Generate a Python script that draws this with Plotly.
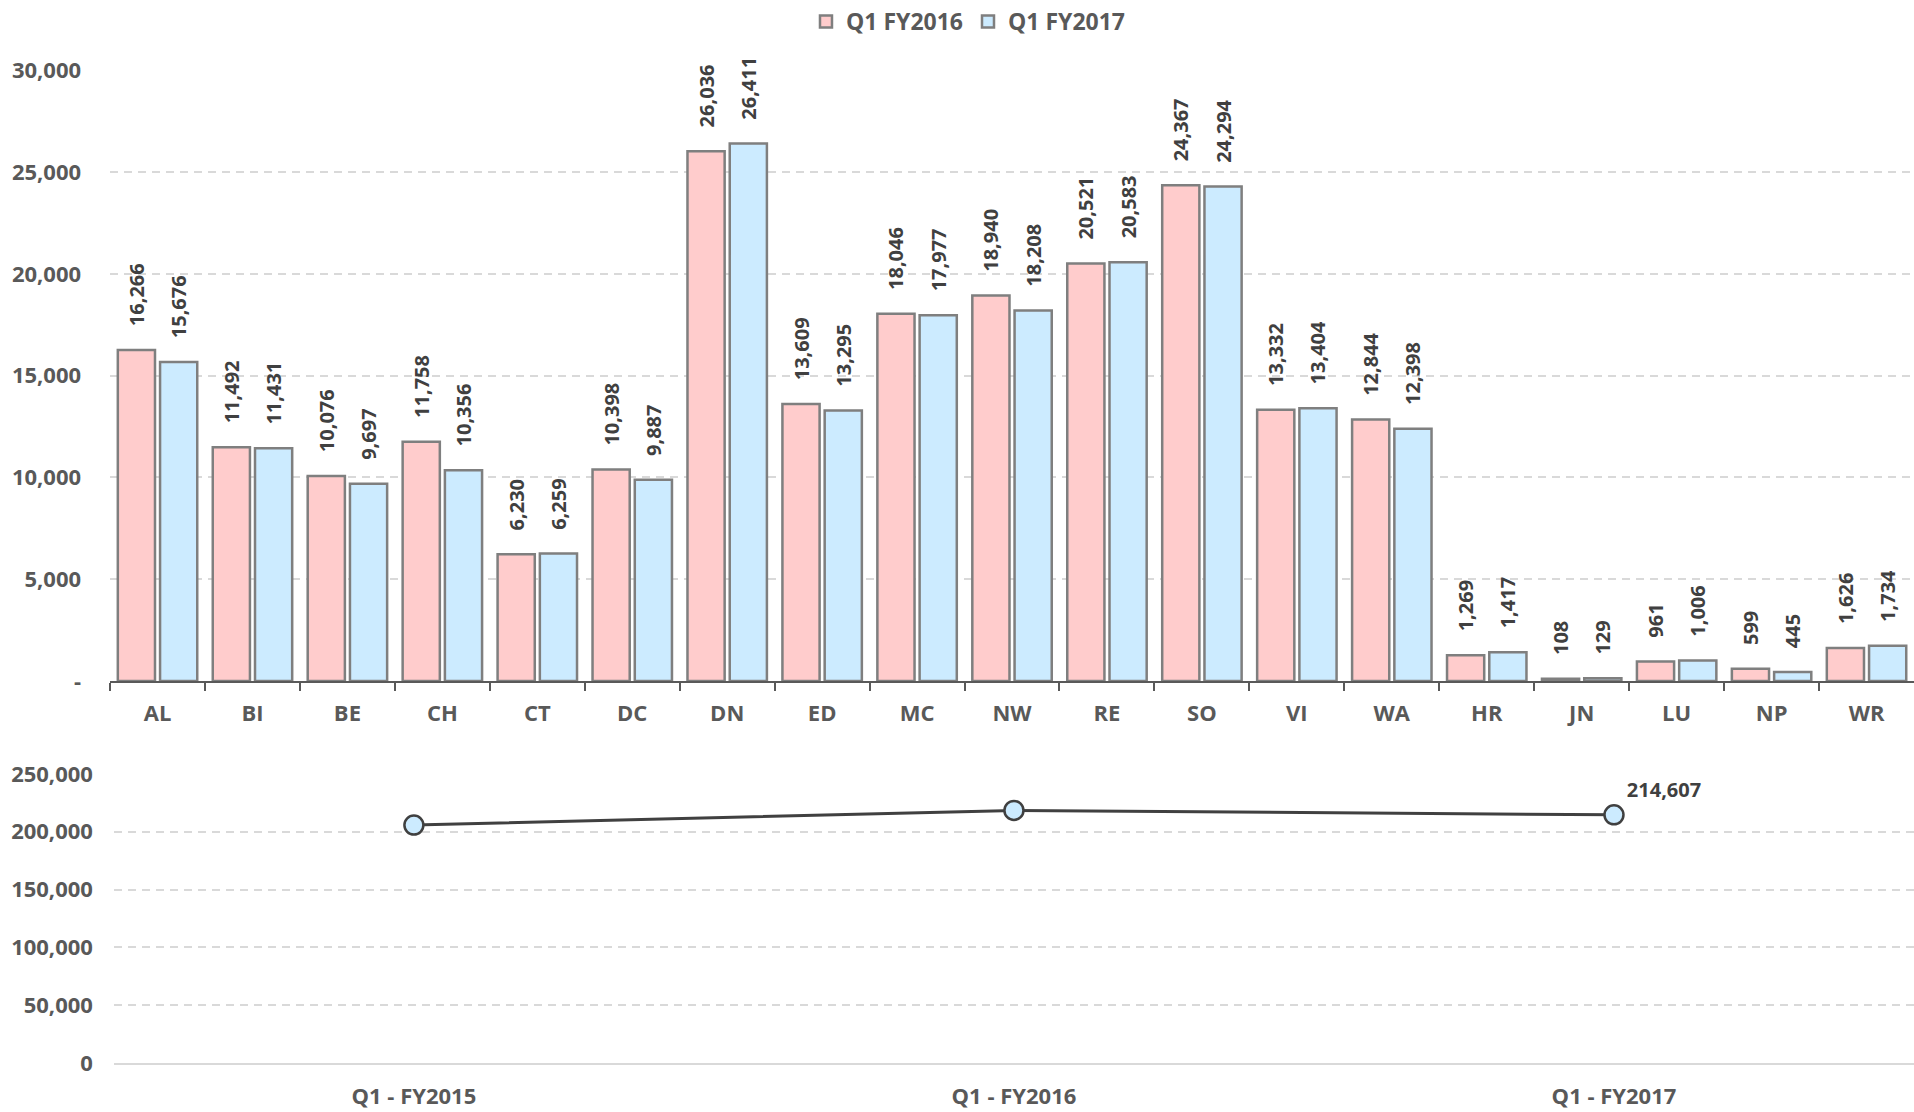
import plotly.graph_objects as go

# Regional counts, first quarter of each fiscal year
regions = ["AL", "BI", "BE", "CH", "CT", "DC", "DN", "ED", "MC", "NW",
           "RE", "SO", "VI", "WA", "HR", "JN", "LU", "NP", "WR"]
q1_fy2016 = [16266, 11492, 10076, 11758, 6230, 10398, 26036, 13609, 18046, 18940,
             20521, 24367, 13332, 12844, 1269, 108, 961, 599, 1626]
q1_fy2017 = [15676, 11431, 9697, 10356, 6259, 9887, 26411, 13295, 17977, 18208,
             20583, 24294, 13404, 12398, 1417, 129, 1006, 445, 1734]

# Quarterly totals
quarters = ["Q1 - FY2015", "Q1 - FY2016", "Q1 - FY2017"]
quarter_totals = [205800, 218478, 214607]

# Axis ticks
bar_tick_vals = [0, 5000, 10000, 15000, 20000, 25000, 30000]
bar_tick_text = ["-", "5,000", "10,000", "15,000", "20,000", "25,000", "30,000"]
total_tick_vals = [0, 50000, 100000, 150000, 200000, 250000]

FONT = "Open Sans"
AXIS_GREY = "#595959"
LABEL_DARK = "#404040"
GRID = "#D9D9D9"

tick_font = dict(family=FONT, size=22, color=AXIS_GREY, weight=700)
legend_font = dict(family=FONT, size=23, color=AXIS_GREY, weight=700)
label_font = dict(family=FONT, size=20, color=LABEL_DARK, weight=700)
pad = "\u00a0" * 4  # breathing room between bar top and its rotated label

fig = go.Figure()

for name, values, fill in [("Q1 FY2016", q1_fy2016, "#FFCCCC"),
                           ("Q1 FY2017", q1_fy2017, "#CCEBFF")]:
    fig.add_trace(go.Bar(
        x=regions, y=values, name=name,
        marker=dict(color=fill, line=dict(color="#7F7F7F", width=2.5)),
        texttemplate=pad + "%{y:,.0f}",
        textposition="outside", textangle=-90,
        textfont=label_font, constraintext="none", cliponaxis=False,
        xaxis="x", yaxis="y",
    ))

total_labels = [""] * (len(quarter_totals) - 1) + [f"{quarter_totals[-1]:,}"]
fig.add_trace(go.Scatter(
    x=quarters, y=quarter_totals, mode="lines+markers+text",
    line=dict(color=LABEL_DARK, width=3),
    marker=dict(size=19, color="#CCEBFF", line=dict(color=LABEL_DARK, width=2.5)),
    text=total_labels, textposition="top right", textfont=label_font,
    cliponaxis=False, showlegend=False,
    xaxis="x2", yaxis="y2",
))

grid_dash = "8px,6px"

fig.update_layout(
    width=1914, height=1112,
    margin=dict(l=0, r=0, t=0, b=0, autoexpand=False),
    paper_bgcolor="white", plot_bgcolor="white",
    barmode="group", bargap=0.11, bargroupgap=0.12,
    showlegend=True,
    legend=dict(orientation="h", x=0.506, xanchor="center", y=1.0, yanchor="top",
                font=legend_font, bgcolor="rgba(0,0,0,0)", itemwidth=30),
    xaxis=dict(domain=[0.0575, 1.0], anchor="y", type="category",
               showline=True, linecolor=AXIS_GREY, linewidth=1.5,
               ticks="outside", tickson="boundaries", ticklen=8,
               tickcolor=AXIS_GREY, tickwidth=1.5,
               tickfont=tick_font, showgrid=False, ticklabelstandoff=12),
    yaxis=dict(domain=[0.3876, 0.9366], anchor="x", range=[0, 30000],
               tickvals=bar_tick_vals, ticktext=bar_tick_text,
               tickfont=tick_font, showgrid=True, gridcolor=GRID,
               gridwidth=1.5, griddash=grid_dash, zeroline=False,
               showline=False, ticklabelstandoff=28),
    xaxis2=dict(domain=[0.0595, 1.0], anchor="y2", type="category",
                range=[-0.5, len(quarters) - 0.5],
                showline=True, linecolor=GRID, linewidth=2,
                ticks="", tickfont=tick_font, showgrid=False,
                ticklabelstandoff=13),
    yaxis2=dict(domain=[0.0441, 0.304], anchor="x2", range=[0, 250000],
                tickvals=total_tick_vals, tickformat=",",
                tickfont=tick_font, showgrid=True, gridcolor=GRID,
                gridwidth=1.5, griddash=grid_dash, zeroline=False,
                showline=False, ticklabelstandoff=20),
)

fig.write_html("out.html")
